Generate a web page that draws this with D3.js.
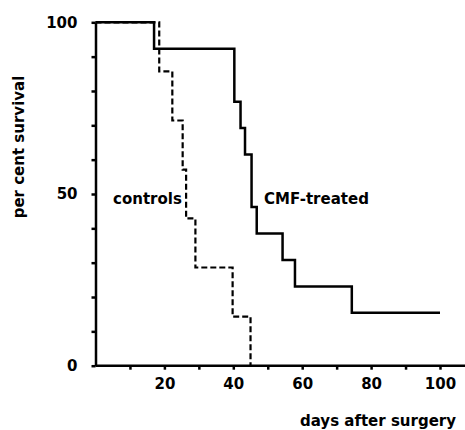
<!DOCTYPE html>
<html>
  <head>
    <title>Survival</title>
    <script type="text/javascript" src="https://d3js.org/d3.v7.min.js"></script>
    <style>
      body { margin: 0; background: white; }
      text { font-family: "DejaVu Sans", sans-serif; font-weight: bold; fill: black; }
      .axis path, .axis line { stroke: black; stroke-width: 2.5; }
    </style>
  </head>
  <body>
    <svg width="465" height="430" class="chart"></svg>
    <script type="text/javascript">
      // step points (day, per cent surviving)
      var controlDays = [0, 18.5, 22.3, 25.3, 26.3, 29, 39.8, 45];
      var controlSurv = [100, 85.7, 71.4, 57.1, 42.9, 28.6, 14.3, 0];
      var cmfDays = [0, 17, 40.3, 42.1, 43.4, 45.3, 46.8, 54.3, 57.9, 74.4, 100];
      var cmfSurv = [100, 92.3, 76.9, 69.2, 61.5, 46.2, 38.5, 30.8, 23.1, 15.4, 15.4];
      var xTickLabels = [20, 40, 60, 80, 100];
      var yTickLabels = [0, 50, 100];

      var svg = d3.select('svg.chart');
      var x = d3.scaleLinear().domain([0, 100]).range([95.5, 440]);
      var y = d3.scaleLinear().domain([0, 100]).range([365.7, 22.3]);

      // x axis runs past 100 to the edge
      svg.append('line')
         .attr('x1', x(0)).attr('x2', 465)
         .attr('y1', y(0)).attr('y2', y(0))
         .attr('stroke', 'black').attr('stroke-width', 2.5);

      var xAxis = d3.axisBottom(x)
                    .tickValues(d3.range(10, 101, 10))
                    .tickSize(4)
                    .tickFormat(function(d) { return xTickLabels.indexOf(d) >= 0 ? d : ''; });
      var gx = svg.append('g').attr('class', 'axis')
                  .attr('transform', 'translate(0,' + y(0) + ')')
                  .call(xAxis);
      gx.select('.domain').remove();
      gx.selectAll('text').attr('dy', '1.1em').style('font-size', '15px');

      var yAxis = d3.axisLeft(y)
                    .tickValues(d3.range(0, 101, 10))
                    .tickSize(4)
                    .tickSizeOuter(0)
                    .tickPadding(14)
                    .tickFormat(function(d) { return yTickLabels.indexOf(d) >= 0 ? d : ''; });
      var gy = svg.append('g').attr('class', 'axis')
                  .attr('transform', 'translate(' + x(0) + ',0)')
                  .call(yAxis);
      gy.selectAll('text').style('font-size', '15px');

      var line = d3.line()
                   .x(function(d) { return x(d[0]); })
                   .y(function(d) { return y(d[1]); })
                   .curve(d3.curveStepAfter);

      svg.append('path')
         .datum(d3.zip(cmfDays, cmfSurv))
         .attr('d', line)
         .attr('fill', 'none')
         .attr('stroke', 'black')
         .attr('stroke-width', 2.5);

      svg.append('path')
         .datum(d3.zip(controlDays, controlSurv))
         .attr('d', line)
         .attr('fill', 'none')
         .attr('stroke', 'black')
         .attr('stroke-width', 2.2)
         .attr('stroke-dasharray', '6,3');

      // labels
      svg.append('text').attr('x', 113).attr('y', 204)
         .style('font-size', '15px').text('controls');
      svg.append('text').attr('x', 264).attr('y', 204)
         .style('font-size', '15px').text('CMF-treated');
      svg.append('text').attr('x', 456).attr('y', 426)
         .attr('text-anchor', 'end')
         .style('font-size', '15px').text('days after surgery');
      svg.append('text')
         .attr('transform', 'translate(24,147) rotate(-90)')
         .attr('text-anchor', 'middle')
         .style('font-size', '15px').text('per cent survival');
    </script>
  </body>
</html>
